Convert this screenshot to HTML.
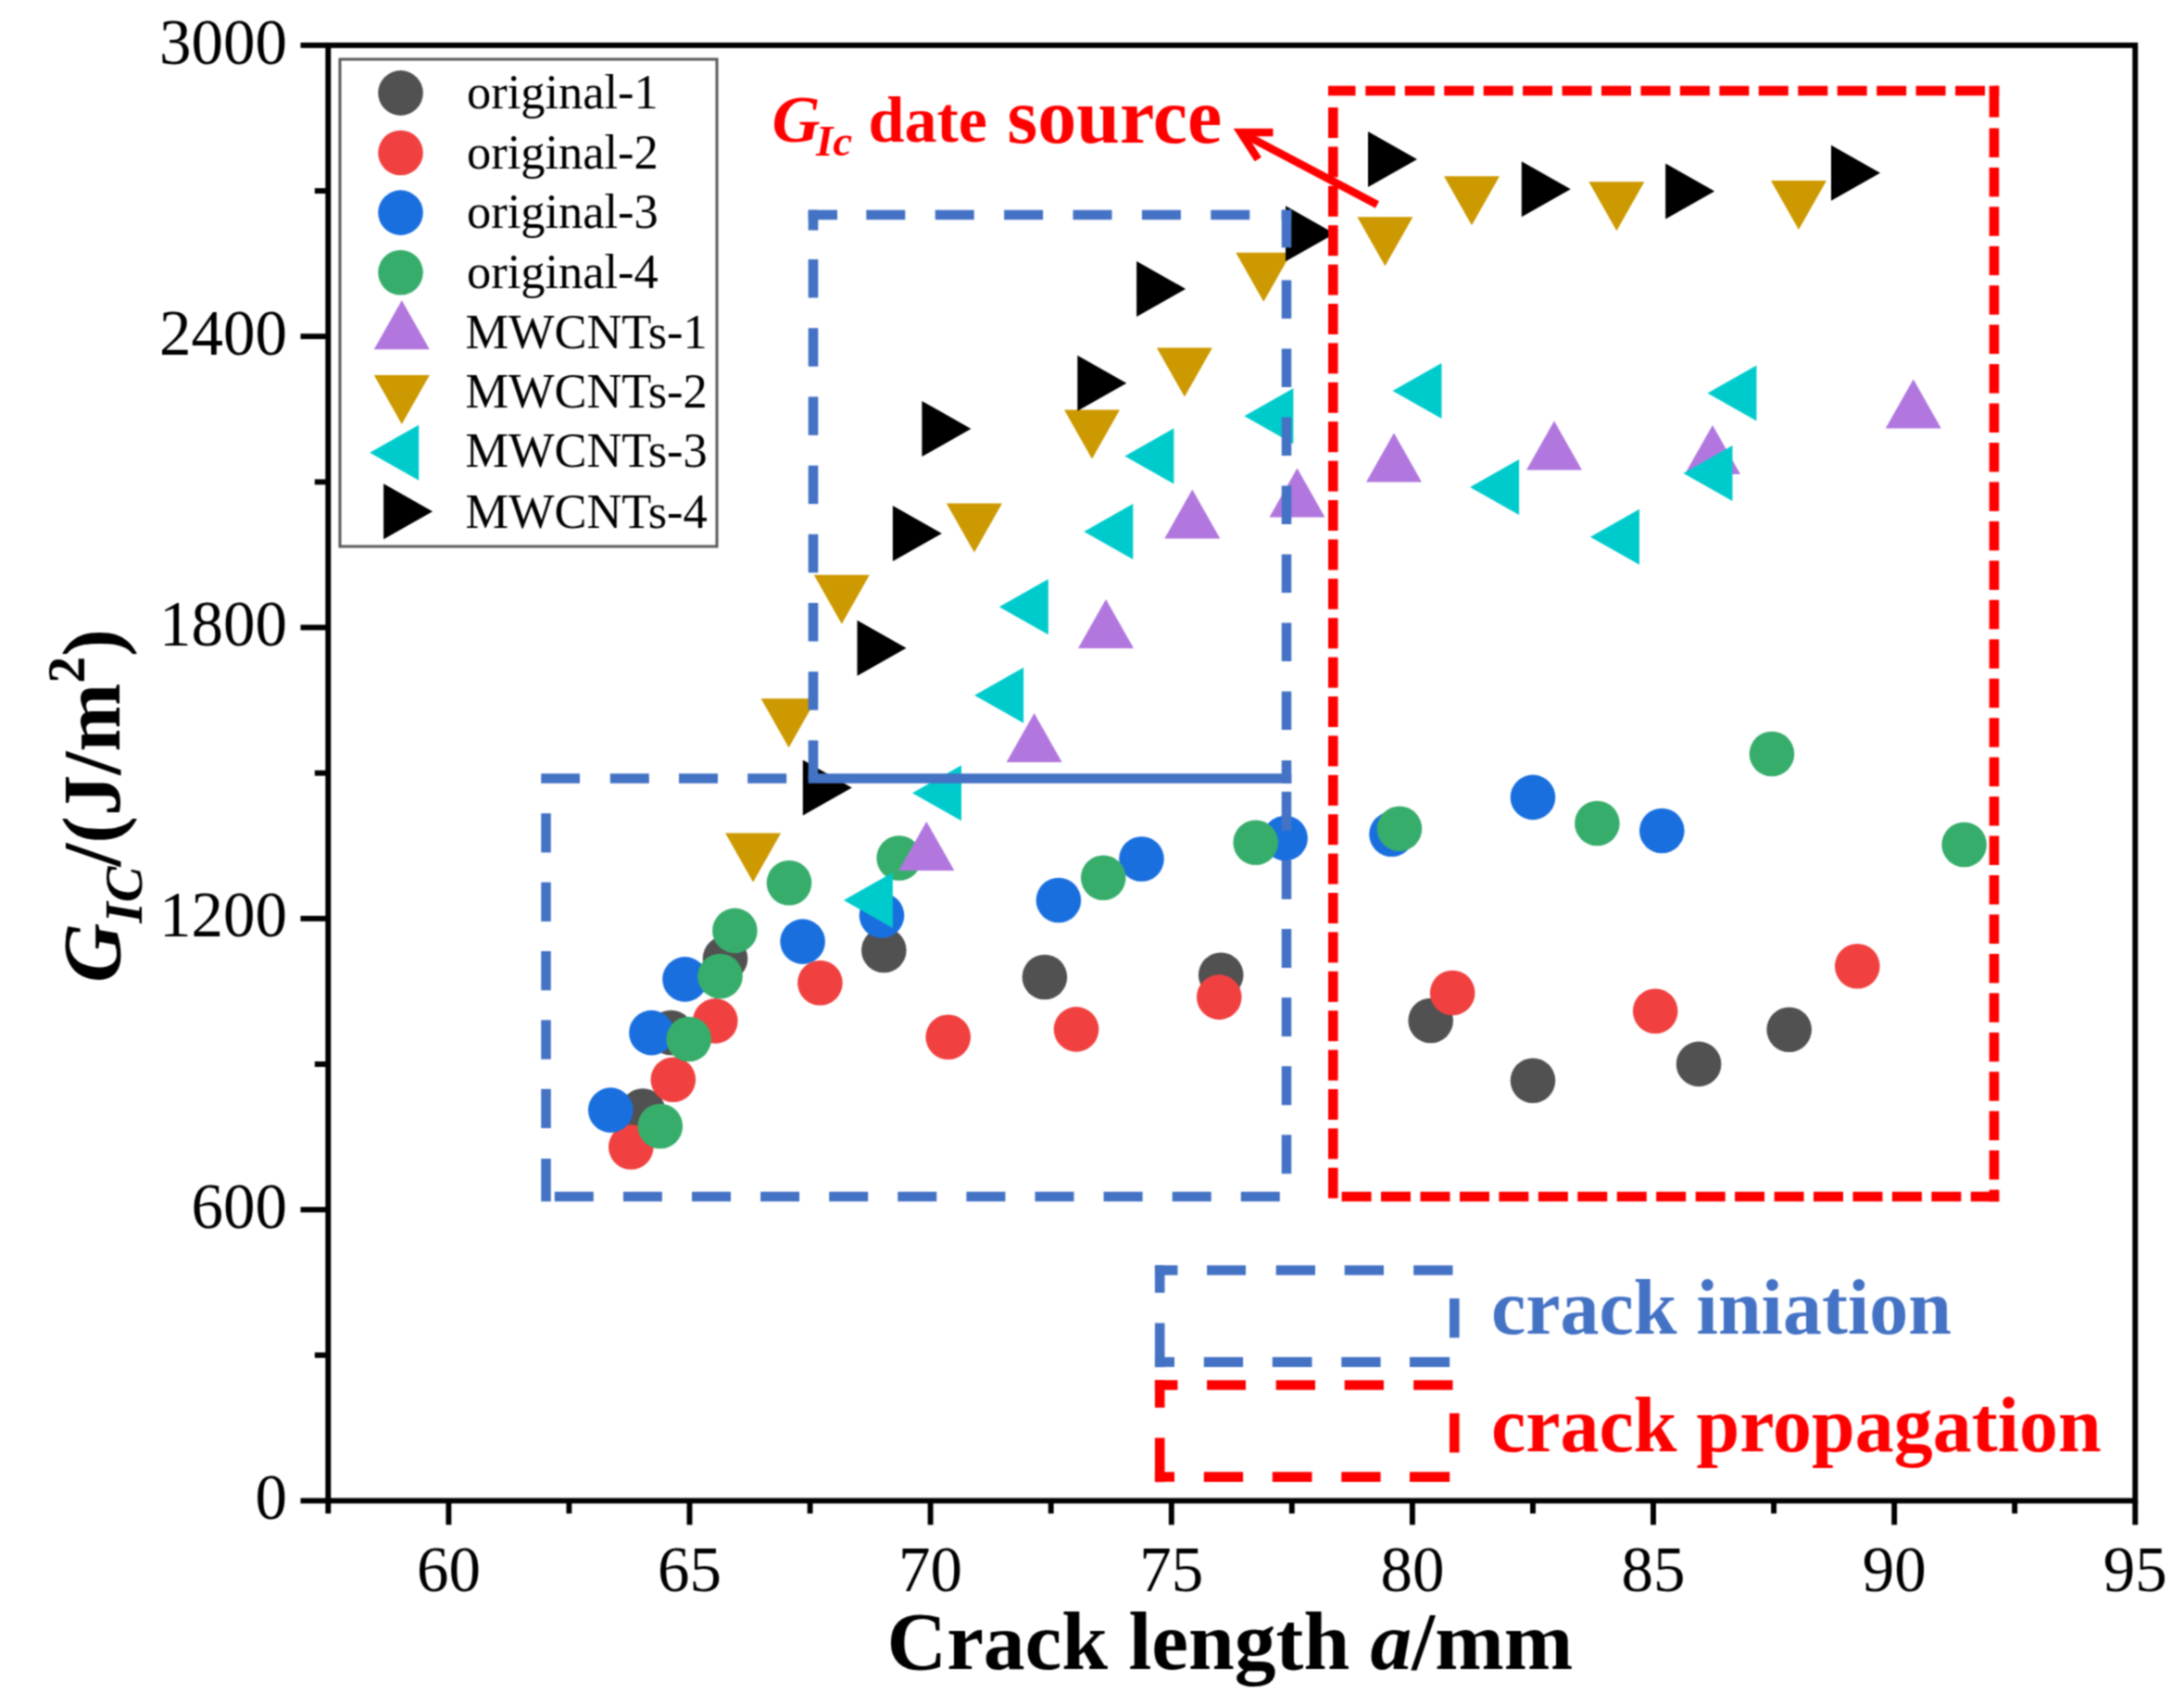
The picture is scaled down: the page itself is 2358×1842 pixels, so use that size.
<!DOCTYPE html>
<html lang="en"><head><meta charset="utf-8"><title>GIC vs crack length</title>
<style>html,body{margin:0;padding:0;background:#fff;}body{width:2358px;height:1842px;overflow:hidden;}svg{display:block;}text{font-family:"Liberation Serif", "Times New Roman", Times, serif;}</style></head><body>
<svg width="2358" height="1842" viewBox="0 0 2358 1842">
<defs><filter id="soft" x="0" y="0" width="2358" height="1842" filterUnits="userSpaceOnUse" color-interpolation-filters="sRGB"><feConvolveMatrix order="3" kernelMatrix="1 2 1 2 4 2 1 2 1" divisor="16" edgeMode="duplicate" preserveAlpha="true"/></filter></defs>
<g filter="url(#soft)">
<rect x="0" y="0" width="2358" height="1842" fill="#fff"/>
<g fill="#515151">
<circle cx="694.0" cy="1199.5" r="24.3"/>
<circle cx="724.5" cy="1115.0" r="24.3"/>
<circle cx="783.0" cy="1035.0" r="24.3"/>
<circle cx="954.3" cy="1026.0" r="24.3"/>
<circle cx="1127.9" cy="1055.0" r="24.3"/>
<circle cx="1318.2" cy="1052.7" r="24.3"/>
<circle cx="1544.7" cy="1102.0" r="24.3"/>
<circle cx="1655.0" cy="1166.7" r="24.3"/>
<circle cx="1834.1" cy="1148.9" r="24.3"/>
<circle cx="1931.7" cy="1111.8" r="24.3"/>
</g>
<g fill="#F14040">
<circle cx="681.3" cy="1238.5" r="24.3"/>
<circle cx="726.8" cy="1165.8" r="24.3"/>
<circle cx="772.3" cy="1102.4" r="24.3"/>
<circle cx="885.4" cy="1061.2" r="24.3"/>
<circle cx="1023.7" cy="1119.8" r="24.3"/>
<circle cx="1162.0" cy="1111.4" r="24.3"/>
<circle cx="1316.3" cy="1076.6" r="24.3"/>
<circle cx="1568.2" cy="1072.0" r="24.3"/>
<circle cx="1787.2" cy="1091.7" r="24.3"/>
<circle cx="2005.3" cy="1043.3" r="24.3"/>
</g>
<g fill="#1A6FDF">
<circle cx="659.3" cy="1198.6" r="24.3"/>
<circle cx="703.4" cy="1115.1" r="24.3"/>
<circle cx="739.5" cy="1057.4" r="24.3"/>
<circle cx="866.6" cy="1016.6" r="24.3"/>
<circle cx="952.0" cy="988.5" r="24.3"/>
<circle cx="1142.9" cy="972.0" r="24.3"/>
<circle cx="1232.5" cy="927.5" r="24.3"/>
<circle cx="1387.6" cy="905.0" r="24.3"/>
<circle cx="1502.5" cy="900.8" r="24.3"/>
<circle cx="1655.0" cy="860.9" r="24.3"/>
<circle cx="1794.3" cy="897.0" r="24.3"/>
</g>
<g fill="#37AD6B">
<circle cx="712.8" cy="1216.0" r="24.3"/>
<circle cx="743.7" cy="1122.0" r="24.3"/>
<circle cx="777.5" cy="1054.0" r="24.3"/>
<circle cx="793.4" cy="1004.9" r="24.3"/>
<circle cx="852.0" cy="953.3" r="24.3"/>
<circle cx="970.7" cy="926.5" r="24.3"/>
<circle cx="1191.2" cy="947.7" r="24.3"/>
<circle cx="1355.7" cy="909.7" r="24.3"/>
<circle cx="1511.0" cy="894.7" r="24.3"/>
<circle cx="1724.4" cy="889.0" r="24.3"/>
<circle cx="1913.0" cy="814.0" r="24.3"/>
<circle cx="2120.7" cy="912.0" r="24.3"/>
</g>
<g fill="#B177DE">
<polygon points="2035.8,462.5 2095.8,462.5 2065.8,409.5"/>
<polygon points="1648.0,507.5 1708.0,507.5 1678.0,454.5"/>
<polygon points="1819.0,512.0 1879.0,512.0 1849.0,459.0"/>
<polygon points="1475.0,520.5 1535.0,520.5 1505.0,467.5"/>
<polygon points="1370.5,558.5 1430.5,558.5 1400.5,505.5"/>
<polygon points="1257.3,581.4 1317.3,581.4 1287.3,528.4"/>
<polygon points="1164.0,700.0 1224.0,700.0 1194.0,647.0"/>
<polygon points="1086.6,823.1 1146.6,823.1 1116.6,770.1"/>
<polygon points="970.3,939.9 1030.3,939.9 1000.3,886.9"/>
</g>
<g fill="#CC9900">
<polygon points="1559.0,190.2 1619.0,190.2 1589.0,243.2"/>
<polygon points="1715.4,196.3 1775.4,196.3 1745.4,249.3"/>
<polygon points="1912.0,194.9 1972.0,194.9 1942.0,247.9"/>
<polygon points="1465.4,234.3 1525.4,234.3 1495.4,287.3"/>
<polygon points="1334.3,272.7 1394.3,272.7 1364.3,325.7"/>
<polygon points="1248.9,375.5 1308.9,375.5 1278.9,428.5"/>
<polygon points="1149.0,442.5 1209.0,442.5 1179.0,495.5"/>
<polygon points="1021.9,543.4 1081.9,543.4 1051.9,596.4"/>
<polygon points="878.8,620.8 938.8,620.8 908.8,673.8"/>
<polygon points="821.6,754.2 881.6,754.2 851.6,807.2"/>
<polygon points="783.1,899.5 843.1,899.5 813.1,952.5"/>
</g>
<g fill="#00CBCC">
<polygon points="1556.5,392.0 1556.5,452.0 1503.5,422.0"/>
<polygon points="1896.5,394.5 1896.5,454.5 1843.5,424.5"/>
<polygon points="1396.4,419.3 1396.4,479.3 1343.4,449.3"/>
<polygon points="1267.4,462.5 1267.4,522.5 1214.4,492.5"/>
<polygon points="1640.1,496.0 1640.1,556.0 1587.1,526.0"/>
<polygon points="1870.5,481.0 1870.5,541.0 1817.5,511.0"/>
<polygon points="1223.3,544.1 1223.3,604.1 1170.3,574.1"/>
<polygon points="1770.0,549.7 1770.0,609.7 1717.0,579.7"/>
<polygon points="1131.8,625.3 1131.8,685.3 1078.8,655.3"/>
<polygon points="1105.1,720.7 1105.1,780.7 1052.1,750.7"/>
<polygon points="1038.0,826.2 1038.0,886.2 985.0,856.2"/>
<polygon points="963.9,942.0 963.9,1002.0 910.9,972.0"/>
</g>
<g fill="#000000">
<polygon points="1477.0,142.0 1477.0,202.0 1530.0,172.0"/>
<polygon points="1642.8,174.3 1642.8,234.3 1695.8,204.3"/>
<polygon points="1798.2,176.4 1798.2,236.4 1851.2,206.4"/>
<polygon points="1977.0,156.7 1977.0,216.7 2030.0,186.7"/>
<polygon points="1388.0,222.3 1388.0,282.3 1441.0,252.3"/>
<polygon points="1227.1,281.9 1227.1,341.9 1280.1,311.9"/>
<polygon points="1163.3,383.7 1163.3,443.7 1216.3,413.7"/>
<polygon points="995.4,433.0 995.4,493.0 1048.4,463.0"/>
<polygon points="963.9,546.0 963.9,606.0 1016.9,576.0"/>
<polygon points="925.5,669.8 925.5,729.8 978.5,699.8"/>
<polygon points="866.8,820.6 866.8,880.6 919.8,850.6"/>
</g>
<g stroke="#000" stroke-width="5.9" fill="none" stroke-linecap="butt">
<rect x="354.3" y="48.9" width="1951.0" height="1571.5"/>
<line x1="324.5" y1="1620.4" x2="354.3" y2="1620.4"/>
<line x1="339.8" y1="1463.2" x2="354.3" y2="1463.2"/>
<line x1="324.5" y1="1306.1" x2="354.3" y2="1306.1"/>
<line x1="339.8" y1="1149.0" x2="354.3" y2="1149.0"/>
<line x1="324.5" y1="991.8" x2="354.3" y2="991.8"/>
<line x1="339.8" y1="834.7" x2="354.3" y2="834.7"/>
<line x1="324.5" y1="677.5" x2="354.3" y2="677.5"/>
<line x1="339.8" y1="520.4" x2="354.3" y2="520.4"/>
<line x1="324.5" y1="363.2" x2="354.3" y2="363.2"/>
<line x1="339.8" y1="206.1" x2="354.3" y2="206.1"/>
<line x1="324.5" y1="48.9" x2="354.3" y2="48.9"/>
<line x1="354.3" y1="1620.4" x2="354.3" y2="1634.2"/>
<line x1="484.4" y1="1620.4" x2="484.4" y2="1646.4"/>
<line x1="614.4" y1="1620.4" x2="614.4" y2="1634.2"/>
<line x1="744.5" y1="1620.4" x2="744.5" y2="1646.4"/>
<line x1="874.6" y1="1620.4" x2="874.6" y2="1634.2"/>
<line x1="1004.6" y1="1620.4" x2="1004.6" y2="1646.4"/>
<line x1="1134.7" y1="1620.4" x2="1134.7" y2="1634.2"/>
<line x1="1264.8" y1="1620.4" x2="1264.8" y2="1646.4"/>
<line x1="1394.8" y1="1620.4" x2="1394.8" y2="1634.2"/>
<line x1="1524.9" y1="1620.4" x2="1524.9" y2="1646.4"/>
<line x1="1655.0" y1="1620.4" x2="1655.0" y2="1634.2"/>
<line x1="1785.0" y1="1620.4" x2="1785.0" y2="1646.4"/>
<line x1="1915.1" y1="1620.4" x2="1915.1" y2="1634.2"/>
<line x1="2045.2" y1="1620.4" x2="2045.2" y2="1646.4"/>
<line x1="2175.2" y1="1620.4" x2="2175.2" y2="1634.2"/>
<line x1="2305.3" y1="1620.4" x2="2305.3" y2="1646.4"/>
</g>
<g font-size="69" fill="#000">
<text x="310" y="1640.0" text-anchor="end">0</text>
<text x="310" y="1325.7" text-anchor="end">600</text>
<text x="310" y="1011.4" text-anchor="end">1200</text>
<text x="310" y="697.1" text-anchor="end">1800</text>
<text x="310" y="382.8" text-anchor="end">2400</text>
<text x="310" y="68.5" text-anchor="end">3000</text>
<text x="484.4" y="1717.5" text-anchor="middle">60</text>
<text x="744.5" y="1717.5" text-anchor="middle">65</text>
<text x="1004.6" y="1717.5" text-anchor="middle">70</text>
<text x="1264.8" y="1717.5" text-anchor="middle">75</text>
<text x="1524.9" y="1717.5" text-anchor="middle">80</text>
<text x="1785.0" y="1717.5" text-anchor="middle">85</text>
<text x="2045.2" y="1717.5" text-anchor="middle">90</text>
<text x="2305.3" y="1717.5" text-anchor="middle">95</text>
</g>
<text x="957.5" y="1802" font-size="89.5" font-weight="bold" fill="#000">Crack length <tspan font-style="italic">a</tspan>/mm</text>
<text transform="translate(129.3,1061) rotate(-90)" font-size="89" font-weight="bold" fill="#000"><tspan font-style="italic">G</tspan><tspan font-style="italic" font-size="58" dy="24">IC</tspan><tspan dy="-24">/(J/m</tspan><tspan font-size="58" dy="-38">2</tspan><tspan dy="38">)</tspan></text>
<rect x="367" y="64" width="407" height="526" fill="#fff" stroke="#5a5a5a" stroke-width="3"/>
<circle cx="432.5" cy="100.4" r="24.3" fill="#515151"/>
<circle cx="432.5" cy="165.0" r="24.3" fill="#F14040"/>
<circle cx="432.5" cy="229.6" r="24.3" fill="#1A6FDF"/>
<circle cx="432.5" cy="294.2" r="24.3" fill="#37AD6B"/>
<polygon points="403.8,377.3 463.8,377.3 433.8,324.3" fill="#B177DE"/>
<polygon points="403.8,404.9 463.8,404.9 433.8,457.9" fill="#CC9900"/>
<polygon points="452.2,458.7 452.2,518.7 399.2,488.7" fill="#00CBCC"/>
<polygon points="414.1,522.3 414.1,582.3 467.1,552.3" fill="#000000"/>
<g font-size="52.4" fill="#000">
<text x="504.0" y="116.5">original-1</text>
<text x="504.0" y="182.0">original-2</text>
<text x="504.0" y="246.4">original-3</text>
<text x="504.0" y="310.9">original-4</text>
<text x="502.5" y="375.5">MWCNTs-1</text>
<text x="502.5" y="440.0">MWCNTs-2</text>
<text x="502.5" y="504.4">MWCNTs-3</text>
<text x="502.5" y="569.9">MWCNTs-4</text>
</g>
<g fill="none">
<line x1="584.2" y1="840.5" x2="626.0" y2="840.5" stroke="#4472C4" stroke-width="10.6"/>
<line x1="658.8" y1="840.5" x2="700.8" y2="840.5" stroke="#4472C4" stroke-width="10.6"/>
<line x1="733.0" y1="840.5" x2="775.0" y2="840.5" stroke="#4472C4" stroke-width="10.6"/>
<line x1="807.2" y1="840.5" x2="849.2" y2="840.5" stroke="#4472C4" stroke-width="10.6"/>
<line x1="872.7" y1="840.5" x2="1394.3" y2="840.5" stroke="#4472C4" stroke-width="10.6"/>
<line x1="589.5" y1="878.2" x2="589.5" y2="920.5" stroke="#4472C4" stroke-width="10.6"/>
<line x1="589.5" y1="952.6" x2="589.5" y2="994.9" stroke="#4472C4" stroke-width="10.6"/>
<line x1="589.5" y1="1027.0" x2="589.5" y2="1069.3" stroke="#4472C4" stroke-width="10.6"/>
<line x1="589.5" y1="1101.4" x2="589.5" y2="1143.7" stroke="#4472C4" stroke-width="10.6"/>
<line x1="589.5" y1="1175.8" x2="589.5" y2="1218.1" stroke="#4472C4" stroke-width="10.6"/>
<line x1="589.5" y1="1251.0" x2="589.5" y2="1297.3" stroke="#4472C4" stroke-width="10.6"/>
<line x1="598.8" y1="1292.0" x2="640.8" y2="1292.0" stroke="#4472C4" stroke-width="10.6"/>
<line x1="672.9" y1="1292.0" x2="714.9" y2="1292.0" stroke="#4472C4" stroke-width="10.6"/>
<line x1="747.0" y1="1292.0" x2="789.0" y2="1292.0" stroke="#4472C4" stroke-width="10.6"/>
<line x1="821.1" y1="1292.0" x2="863.1" y2="1292.0" stroke="#4472C4" stroke-width="10.6"/>
<line x1="895.2" y1="1292.0" x2="937.2" y2="1292.0" stroke="#4472C4" stroke-width="10.6"/>
<line x1="969.3" y1="1292.0" x2="1011.3" y2="1292.0" stroke="#4472C4" stroke-width="10.6"/>
<line x1="1043.4" y1="1292.0" x2="1085.4" y2="1292.0" stroke="#4472C4" stroke-width="10.6"/>
<line x1="1117.5" y1="1292.0" x2="1159.5" y2="1292.0" stroke="#4472C4" stroke-width="10.6"/>
<line x1="1191.6" y1="1292.0" x2="1233.6" y2="1292.0" stroke="#4472C4" stroke-width="10.6"/>
<line x1="1265.7" y1="1292.0" x2="1307.7" y2="1292.0" stroke="#4472C4" stroke-width="10.6"/>
<line x1="1339.8" y1="1292.0" x2="1381.8" y2="1292.0" stroke="#4472C4" stroke-width="10.6"/>
<line x1="1389.0" y1="854.8" x2="1389.0" y2="896.8" stroke="#4472C4" stroke-width="10.6"/>
<line x1="1389.0" y1="928.9" x2="1389.0" y2="970.9" stroke="#4472C4" stroke-width="10.6"/>
<line x1="1389.0" y1="1003.0" x2="1389.0" y2="1045.0" stroke="#4472C4" stroke-width="10.6"/>
<line x1="1389.0" y1="1077.1" x2="1389.0" y2="1119.1" stroke="#4472C4" stroke-width="10.6"/>
<line x1="1389.0" y1="1151.2" x2="1389.0" y2="1193.2" stroke="#4472C4" stroke-width="10.6"/>
<line x1="1389.0" y1="1225.3" x2="1389.0" y2="1267.3" stroke="#4472C4" stroke-width="10.6"/>
<line x1="872.7" y1="232.0" x2="904.0" y2="232.0" stroke="#4472C4" stroke-width="10.6"/>
<line x1="935.3" y1="232.0" x2="977.3" y2="232.0" stroke="#4472C4" stroke-width="10.6"/>
<line x1="1009.7" y1="232.0" x2="1051.7" y2="232.0" stroke="#4472C4" stroke-width="10.6"/>
<line x1="1084.1" y1="232.0" x2="1126.1" y2="232.0" stroke="#4472C4" stroke-width="10.6"/>
<line x1="1158.5" y1="232.0" x2="1200.5" y2="232.0" stroke="#4472C4" stroke-width="10.6"/>
<line x1="1232.9" y1="232.0" x2="1274.9" y2="232.0" stroke="#4472C4" stroke-width="10.6"/>
<line x1="1307.3" y1="232.0" x2="1349.3" y2="232.0" stroke="#4472C4" stroke-width="10.6"/>
<line x1="1383.7" y1="232.0" x2="1394.3" y2="232.0" stroke="#4472C4" stroke-width="10.6"/>
<line x1="878.0" y1="226.7" x2="878.0" y2="248.6" stroke="#4472C4" stroke-width="10.6"/>
<line x1="878.0" y1="280.0" x2="878.0" y2="321.5" stroke="#4472C4" stroke-width="10.6"/>
<line x1="878.0" y1="354.2" x2="878.0" y2="395.7" stroke="#4472C4" stroke-width="10.6"/>
<line x1="878.0" y1="428.4" x2="878.0" y2="469.9" stroke="#4472C4" stroke-width="10.6"/>
<line x1="878.0" y1="502.6" x2="878.0" y2="544.1" stroke="#4472C4" stroke-width="10.6"/>
<line x1="878.0" y1="576.8" x2="878.0" y2="618.3" stroke="#4472C4" stroke-width="10.6"/>
<line x1="878.0" y1="651.0" x2="878.0" y2="692.5" stroke="#4472C4" stroke-width="10.6"/>
<line x1="878.0" y1="725.2" x2="878.0" y2="766.7" stroke="#4472C4" stroke-width="10.6"/>
<line x1="878.0" y1="799.4" x2="878.0" y2="840.9" stroke="#4472C4" stroke-width="10.6"/>
<line x1="1389.0" y1="226.7" x2="1389.0" y2="267.4" stroke="#4472C4" stroke-width="10.6"/>
<line x1="1389.0" y1="302.5" x2="1389.0" y2="344.0" stroke="#4472C4" stroke-width="10.6"/>
<line x1="1389.0" y1="376.5" x2="1389.0" y2="418.0" stroke="#4472C4" stroke-width="10.6"/>
<line x1="1389.0" y1="450.5" x2="1389.0" y2="492.0" stroke="#4472C4" stroke-width="10.6"/>
<line x1="1389.0" y1="524.5" x2="1389.0" y2="566.0" stroke="#4472C4" stroke-width="10.6"/>
<line x1="1389.0" y1="598.5" x2="1389.0" y2="640.0" stroke="#4472C4" stroke-width="10.6"/>
<line x1="1389.0" y1="672.5" x2="1389.0" y2="714.0" stroke="#4472C4" stroke-width="10.6"/>
<line x1="1389.0" y1="746.5" x2="1389.0" y2="788.0" stroke="#4472C4" stroke-width="10.6"/>
<line x1="1389.0" y1="821.0" x2="1389.0" y2="845.8" stroke="#4472C4" stroke-width="10.6"/>
<line x1="1434.0" y1="98.0" x2="1463.5" y2="98.0" stroke="#FF0000" stroke-width="10.6"/>
<line x1="1474.3" y1="98.0" x2="1506.3" y2="98.0" stroke="#FF0000" stroke-width="10.6"/>
<line x1="1516.8" y1="98.0" x2="1548.8" y2="98.0" stroke="#FF0000" stroke-width="10.6"/>
<line x1="1559.2" y1="98.0" x2="1591.2" y2="98.0" stroke="#FF0000" stroke-width="10.6"/>
<line x1="1601.7" y1="98.0" x2="1633.7" y2="98.0" stroke="#FF0000" stroke-width="10.6"/>
<line x1="1644.1" y1="98.0" x2="1676.1" y2="98.0" stroke="#FF0000" stroke-width="10.6"/>
<line x1="1686.6" y1="98.0" x2="1718.6" y2="98.0" stroke="#FF0000" stroke-width="10.6"/>
<line x1="1729.0" y1="98.0" x2="1761.0" y2="98.0" stroke="#FF0000" stroke-width="10.6"/>
<line x1="1771.5" y1="98.0" x2="1803.5" y2="98.0" stroke="#FF0000" stroke-width="10.6"/>
<line x1="1813.9" y1="98.0" x2="1845.9" y2="98.0" stroke="#FF0000" stroke-width="10.6"/>
<line x1="1856.4" y1="98.0" x2="1888.4" y2="98.0" stroke="#FF0000" stroke-width="10.6"/>
<line x1="1898.8" y1="98.0" x2="1930.8" y2="98.0" stroke="#FF0000" stroke-width="10.6"/>
<line x1="1941.3" y1="98.0" x2="1973.3" y2="98.0" stroke="#FF0000" stroke-width="10.6"/>
<line x1="1983.7" y1="98.0" x2="2015.7" y2="98.0" stroke="#FF0000" stroke-width="10.6"/>
<line x1="2026.2" y1="98.0" x2="2058.2" y2="98.0" stroke="#FF0000" stroke-width="10.6"/>
<line x1="2068.6" y1="98.0" x2="2100.6" y2="98.0" stroke="#FF0000" stroke-width="10.6"/>
<line x1="2111.1" y1="98.0" x2="2143.1" y2="98.0" stroke="#FF0000" stroke-width="10.6"/>
<line x1="2153.5" y1="98.0" x2="2158.3" y2="98.0" stroke="#FF0000" stroke-width="10.6"/>
<line x1="1439.3" y1="116.0" x2="1439.3" y2="149.0" stroke="#FF0000" stroke-width="10.6"/>
<line x1="1439.3" y1="158.4" x2="1439.3" y2="191.4" stroke="#FF0000" stroke-width="10.6"/>
<line x1="1439.3" y1="200.8" x2="1439.3" y2="233.8" stroke="#FF0000" stroke-width="10.6"/>
<line x1="1439.3" y1="243.2" x2="1439.3" y2="276.2" stroke="#FF0000" stroke-width="10.6"/>
<line x1="1439.3" y1="285.6" x2="1439.3" y2="318.6" stroke="#FF0000" stroke-width="10.6"/>
<line x1="1439.3" y1="328.0" x2="1439.3" y2="361.0" stroke="#FF0000" stroke-width="10.6"/>
<line x1="1439.3" y1="370.4" x2="1439.3" y2="403.4" stroke="#FF0000" stroke-width="10.6"/>
<line x1="1439.3" y1="412.8" x2="1439.3" y2="445.8" stroke="#FF0000" stroke-width="10.6"/>
<line x1="1439.3" y1="455.2" x2="1439.3" y2="488.2" stroke="#FF0000" stroke-width="10.6"/>
<line x1="1439.3" y1="497.6" x2="1439.3" y2="530.6" stroke="#FF0000" stroke-width="10.6"/>
<line x1="1439.3" y1="540.0" x2="1439.3" y2="573.0" stroke="#FF0000" stroke-width="10.6"/>
<line x1="1439.3" y1="582.4" x2="1439.3" y2="615.4" stroke="#FF0000" stroke-width="10.6"/>
<line x1="1439.3" y1="624.8" x2="1439.3" y2="657.8" stroke="#FF0000" stroke-width="10.6"/>
<line x1="1439.3" y1="667.2" x2="1439.3" y2="700.2" stroke="#FF0000" stroke-width="10.6"/>
<line x1="1439.3" y1="709.6" x2="1439.3" y2="742.6" stroke="#FF0000" stroke-width="10.6"/>
<line x1="1439.3" y1="752.0" x2="1439.3" y2="785.0" stroke="#FF0000" stroke-width="10.6"/>
<line x1="1439.3" y1="794.4" x2="1439.3" y2="827.4" stroke="#FF0000" stroke-width="10.6"/>
<line x1="1439.3" y1="836.8" x2="1439.3" y2="869.8" stroke="#FF0000" stroke-width="10.6"/>
<line x1="1439.3" y1="879.2" x2="1439.3" y2="912.2" stroke="#FF0000" stroke-width="10.6"/>
<line x1="1439.3" y1="921.6" x2="1439.3" y2="954.6" stroke="#FF0000" stroke-width="10.6"/>
<line x1="1439.3" y1="964.0" x2="1439.3" y2="997.0" stroke="#FF0000" stroke-width="10.6"/>
<line x1="1439.3" y1="1006.4" x2="1439.3" y2="1039.4" stroke="#FF0000" stroke-width="10.6"/>
<line x1="1439.3" y1="1048.8" x2="1439.3" y2="1081.8" stroke="#FF0000" stroke-width="10.6"/>
<line x1="1439.3" y1="1091.2" x2="1439.3" y2="1124.2" stroke="#FF0000" stroke-width="10.6"/>
<line x1="1439.3" y1="1133.6" x2="1439.3" y2="1166.6" stroke="#FF0000" stroke-width="10.6"/>
<line x1="1439.3" y1="1176.0" x2="1439.3" y2="1209.0" stroke="#FF0000" stroke-width="10.6"/>
<line x1="1439.3" y1="1218.4" x2="1439.3" y2="1251.4" stroke="#FF0000" stroke-width="10.6"/>
<line x1="1439.3" y1="1260.8" x2="1439.3" y2="1293.8" stroke="#FF0000" stroke-width="10.6"/>
<line x1="2153.0" y1="92.7" x2="2153.0" y2="126.6" stroke="#FF0000" stroke-width="10.6"/>
<line x1="2153.0" y1="138.4" x2="2153.0" y2="169.9" stroke="#FF0000" stroke-width="10.6"/>
<line x1="2153.0" y1="180.9" x2="2153.0" y2="212.4" stroke="#FF0000" stroke-width="10.6"/>
<line x1="2153.0" y1="223.3" x2="2153.0" y2="254.8" stroke="#FF0000" stroke-width="10.6"/>
<line x1="2153.0" y1="265.8" x2="2153.0" y2="297.2" stroke="#FF0000" stroke-width="10.6"/>
<line x1="2153.0" y1="308.2" x2="2153.0" y2="339.7" stroke="#FF0000" stroke-width="10.6"/>
<line x1="2153.0" y1="350.6" x2="2153.0" y2="382.1" stroke="#FF0000" stroke-width="10.6"/>
<line x1="2153.0" y1="393.1" x2="2153.0" y2="424.6" stroke="#FF0000" stroke-width="10.6"/>
<line x1="2153.0" y1="435.5" x2="2153.0" y2="467.0" stroke="#FF0000" stroke-width="10.6"/>
<line x1="2153.0" y1="478.0" x2="2153.0" y2="509.5" stroke="#FF0000" stroke-width="10.6"/>
<line x1="2153.0" y1="520.4" x2="2153.0" y2="551.9" stroke="#FF0000" stroke-width="10.6"/>
<line x1="2153.0" y1="562.9" x2="2153.0" y2="594.4" stroke="#FF0000" stroke-width="10.6"/>
<line x1="2153.0" y1="605.4" x2="2153.0" y2="636.9" stroke="#FF0000" stroke-width="10.6"/>
<line x1="2153.0" y1="647.8" x2="2153.0" y2="679.3" stroke="#FF0000" stroke-width="10.6"/>
<line x1="2153.0" y1="690.3" x2="2153.0" y2="721.8" stroke="#FF0000" stroke-width="10.6"/>
<line x1="2153.0" y1="732.7" x2="2153.0" y2="764.2" stroke="#FF0000" stroke-width="10.6"/>
<line x1="2153.0" y1="775.2" x2="2153.0" y2="806.7" stroke="#FF0000" stroke-width="10.6"/>
<line x1="2153.0" y1="817.6" x2="2153.0" y2="849.1" stroke="#FF0000" stroke-width="10.6"/>
<line x1="2153.0" y1="860.1" x2="2153.0" y2="891.6" stroke="#FF0000" stroke-width="10.6"/>
<line x1="2153.0" y1="902.5" x2="2153.0" y2="934.0" stroke="#FF0000" stroke-width="10.6"/>
<line x1="2153.0" y1="945.0" x2="2153.0" y2="976.5" stroke="#FF0000" stroke-width="10.6"/>
<line x1="2153.0" y1="987.4" x2="2153.0" y2="1018.9" stroke="#FF0000" stroke-width="10.6"/>
<line x1="2153.0" y1="1029.9" x2="2153.0" y2="1061.4" stroke="#FF0000" stroke-width="10.6"/>
<line x1="2153.0" y1="1072.3" x2="2153.0" y2="1103.8" stroke="#FF0000" stroke-width="10.6"/>
<line x1="2153.0" y1="1114.8" x2="2153.0" y2="1146.3" stroke="#FF0000" stroke-width="10.6"/>
<line x1="2153.0" y1="1157.2" x2="2153.0" y2="1188.7" stroke="#FF0000" stroke-width="10.6"/>
<line x1="2153.0" y1="1199.7" x2="2153.0" y2="1231.2" stroke="#FF0000" stroke-width="10.6"/>
<line x1="2153.0" y1="1242.1" x2="2153.0" y2="1273.6" stroke="#FF0000" stroke-width="10.6"/>
<line x1="2153.0" y1="1284.6" x2="2153.0" y2="1297.3" stroke="#FF0000" stroke-width="10.6"/>
<line x1="1448.6" y1="1292.0" x2="1480.6" y2="1292.0" stroke="#FF0000" stroke-width="10.6"/>
<line x1="1491.0" y1="1292.0" x2="1523.0" y2="1292.0" stroke="#FF0000" stroke-width="10.6"/>
<line x1="1533.5" y1="1292.0" x2="1565.5" y2="1292.0" stroke="#FF0000" stroke-width="10.6"/>
<line x1="1576.0" y1="1292.0" x2="1608.0" y2="1292.0" stroke="#FF0000" stroke-width="10.6"/>
<line x1="1618.4" y1="1292.0" x2="1650.4" y2="1292.0" stroke="#FF0000" stroke-width="10.6"/>
<line x1="1660.9" y1="1292.0" x2="1692.9" y2="1292.0" stroke="#FF0000" stroke-width="10.6"/>
<line x1="1703.3" y1="1292.0" x2="1735.3" y2="1292.0" stroke="#FF0000" stroke-width="10.6"/>
<line x1="1745.8" y1="1292.0" x2="1777.8" y2="1292.0" stroke="#FF0000" stroke-width="10.6"/>
<line x1="1788.2" y1="1292.0" x2="1820.2" y2="1292.0" stroke="#FF0000" stroke-width="10.6"/>
<line x1="1830.7" y1="1292.0" x2="1862.7" y2="1292.0" stroke="#FF0000" stroke-width="10.6"/>
<line x1="1873.1" y1="1292.0" x2="1905.1" y2="1292.0" stroke="#FF0000" stroke-width="10.6"/>
<line x1="1915.6" y1="1292.0" x2="1947.6" y2="1292.0" stroke="#FF0000" stroke-width="10.6"/>
<line x1="1958.0" y1="1292.0" x2="1990.0" y2="1292.0" stroke="#FF0000" stroke-width="10.6"/>
<line x1="2000.5" y1="1292.0" x2="2032.5" y2="1292.0" stroke="#FF0000" stroke-width="10.6"/>
<line x1="2042.9" y1="1292.0" x2="2074.9" y2="1292.0" stroke="#FF0000" stroke-width="10.6"/>
<line x1="2085.4" y1="1292.0" x2="2117.4" y2="1292.0" stroke="#FF0000" stroke-width="10.6"/>
<line x1="2127.8" y1="1292.0" x2="2158.3" y2="1292.0" stroke="#FF0000" stroke-width="10.6"/>
<line x1="1246.9" y1="1371.5" x2="1271.5" y2="1371.5" stroke="#4472C4" stroke-width="10.6"/>
<line x1="1303.1" y1="1371.5" x2="1345.0" y2="1371.5" stroke="#4472C4" stroke-width="10.6"/>
<line x1="1377.7" y1="1371.5" x2="1420.0" y2="1371.5" stroke="#4472C4" stroke-width="10.6"/>
<line x1="1451.7" y1="1371.5" x2="1494.0" y2="1371.5" stroke="#4472C4" stroke-width="10.6"/>
<line x1="1526.2" y1="1371.5" x2="1568.5" y2="1371.5" stroke="#4472C4" stroke-width="10.6"/>
<line x1="1252.2" y1="1366.0" x2="1252.2" y2="1395.8" stroke="#4472C4" stroke-width="10.6"/>
<line x1="1252.2" y1="1428.5" x2="1252.2" y2="1476.2" stroke="#4472C4" stroke-width="10.6"/>
<line x1="1570.3" y1="1401.9" x2="1570.3" y2="1444.4" stroke="#4472C4" stroke-width="10.6"/>
<line x1="1246.9" y1="1470.6" x2="1268.0" y2="1470.6" stroke="#4472C4" stroke-width="10.6"/>
<line x1="1299.8" y1="1470.6" x2="1342.1" y2="1470.6" stroke="#4472C4" stroke-width="10.6"/>
<line x1="1373.8" y1="1470.6" x2="1416.5" y2="1470.6" stroke="#4472C4" stroke-width="10.6"/>
<line x1="1448.3" y1="1470.6" x2="1490.6" y2="1470.6" stroke="#4472C4" stroke-width="10.6"/>
<line x1="1522.0" y1="1470.6" x2="1565.2" y2="1470.6" stroke="#4472C4" stroke-width="10.6"/>
<line x1="1246.9" y1="1495.5" x2="1271.5" y2="1495.5" stroke="#FF0000" stroke-width="10.6"/>
<line x1="1303.1" y1="1495.5" x2="1345.0" y2="1495.5" stroke="#FF0000" stroke-width="10.6"/>
<line x1="1377.7" y1="1495.5" x2="1420.0" y2="1495.5" stroke="#FF0000" stroke-width="10.6"/>
<line x1="1451.7" y1="1495.5" x2="1494.0" y2="1495.5" stroke="#FF0000" stroke-width="10.6"/>
<line x1="1526.2" y1="1495.5" x2="1568.5" y2="1495.5" stroke="#FF0000" stroke-width="10.6"/>
<line x1="1252.2" y1="1490.0" x2="1252.2" y2="1519.8" stroke="#FF0000" stroke-width="10.6"/>
<line x1="1252.2" y1="1552.5" x2="1252.2" y2="1600.2" stroke="#FF0000" stroke-width="10.6"/>
<line x1="1570.3" y1="1525.9" x2="1570.3" y2="1568.4" stroke="#FF0000" stroke-width="10.6"/>
<line x1="1246.9" y1="1594.6" x2="1268.0" y2="1594.6" stroke="#FF0000" stroke-width="10.6"/>
<line x1="1299.8" y1="1594.6" x2="1342.1" y2="1594.6" stroke="#FF0000" stroke-width="10.6"/>
<line x1="1373.8" y1="1594.6" x2="1416.5" y2="1594.6" stroke="#FF0000" stroke-width="10.6"/>
<line x1="1448.3" y1="1594.6" x2="1490.6" y2="1594.6" stroke="#FF0000" stroke-width="10.6"/>
<line x1="1522.0" y1="1594.6" x2="1565.2" y2="1594.6" stroke="#FF0000" stroke-width="10.6"/>
</g>
<text x="1610" y="1439.5" font-size="84" font-weight="bold" fill="#4472C4">crack iniation</text>
<text x="1610" y="1566.5" font-size="84" font-weight="bold" fill="#FF0000">crack propagation</text>
<text y="152.5" font-weight="bold" fill="#FF0000"><tspan x="833.5" font-size="72" font-style="italic">G</tspan><tspan x="881" font-size="47" font-style="italic" dy="15.5">Ic</tspan><tspan x="937.5" font-size="70" dy="-15.5">date</tspan><tspan x="1087.5" font-size="84" dy="1.5">source</tspan></text>
<g stroke="#FF0000" stroke-width="8.5" fill="none" stroke-linecap="butt" stroke-linejoin="miter" stroke-miterlimit="10">
<line x1="1487" y1="220.9" x2="1339.5" y2="143"/>
<polyline points="1374.5,143 1339.5,143 1358.3,172"/>
</g>
</g></svg></body></html>
